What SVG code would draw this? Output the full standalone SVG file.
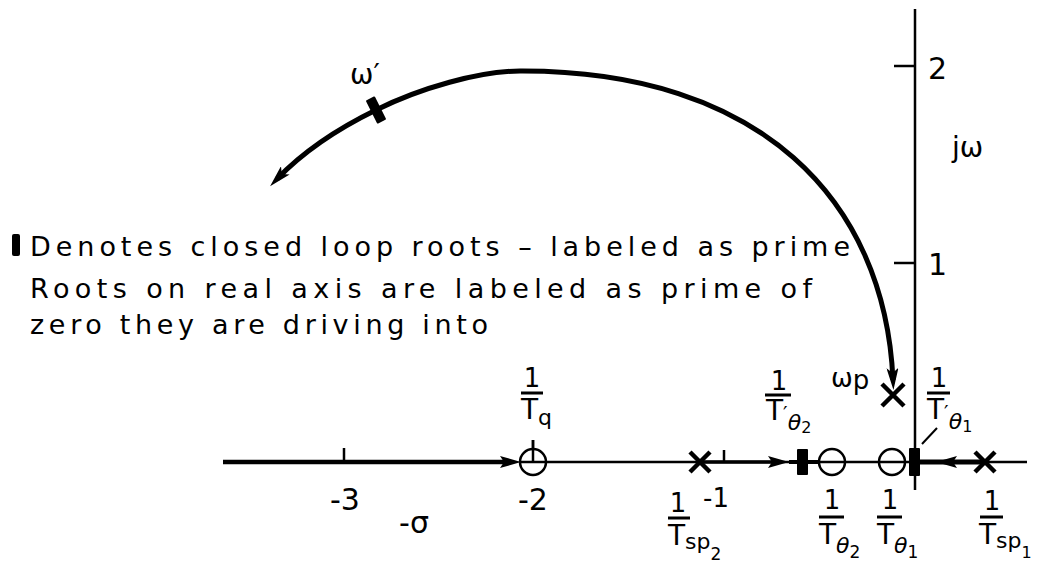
<svg xmlns="http://www.w3.org/2000/svg" width="1039" height="565" viewBox="0 0 1039 565">
<style>
.t{font-family:"DejaVu Sans","Liberation Sans",sans-serif;fill:#000}
.ax{stroke:#000;stroke-width:2.5;fill:none}
.x{stroke:#000;stroke-width:4.5;stroke-linecap:butt}
.z{stroke:#000;stroke-width:2.5;fill:#fff}
.bar{stroke:#000;stroke-width:3}
.loc{stroke:#000;fill:none}
.num{font-size:26px;text-anchor:middle}
.den{font-size:28px}
</style>
<defs>
<marker id="ah" viewBox="0 0 22 12" refX="12" refY="6" markerWidth="22" markerHeight="12" markerUnits="userSpaceOnUse" orient="auto-start-reverse">
<path d="M0,0 L22,6 L0,12 L5,6 z" fill="#000"/>
</marker>
</defs>
<rect width="1039" height="565" fill="#fff"/>

<g id="axes">
<line class="ax" x1="915" y1="9" x2="915" y2="490"/>
<line class="ax" x1="894" y1="66" x2="915" y2="66"/>
<line class="ax" x1="894" y1="263" x2="915" y2="263"/>
<line class="ax" x1="546" y1="462" x2="1027" y2="462"/>
<line class="ax" x1="344" y1="448" x2="344" y2="462"/>
<line class="ax" x1="724" y1="450" x2="724" y2="462"/>
<line class="ax" x1="533" y1="440" x2="533" y2="462"/>
<text class="t" x="928" y="79" font-size="30">2</text>
<text class="t" x="928" y="275" font-size="30">1</text>
<text class="t" x="952" y="157" font-size="28">jω</text>
<text class="t" x="345" y="510" font-size="30" text-anchor="middle">-3</text>
<text class="t" x="533" y="510" font-size="30" text-anchor="middle">-2</text>
<text class="t" x="716" y="507" font-size="26" text-anchor="middle">-1</text>
<text class="t" x="414" y="533" font-size="30" text-anchor="middle">-σ</text>
</g>

<g id="connectors">
<line class="loc" x1="223" y1="462" x2="505" y2="462" stroke-width="4.5"/>
<polygon points="500,456 521,462 500,468 504,462"/>
<line class="loc" x1="700" y1="462" x2="775" y2="462" stroke-width="3.5"/>
<polygon points="768,456 789,462 768,468 772,462"/>
<line class="loc" x1="789" y1="462" x2="819" y2="462" stroke-width="4"/>
<line class="loc" x1="918" y1="462" x2="985" y2="462" stroke-width="5"/>
<polygon points="957,456 936,462 957,468 953,462"/>
<path class="loc" stroke-width="5" marker-start="url(#ah)" marker-end="url(#ah)" d="M893,380 C885,200 760,70 520,71 C480,71 420,88 376,110 C335,130 300,155 277,179"/>
<line stroke="#000" stroke-width="2" x1="922" y1="444" x2="937" y2="428"/>
</g>

<g id="zero-Tq"><circle class="z" cx="533" cy="462" r="13"/><line class="ax" x1="533" y1="440" x2="533" y2="462"/><line class="ax" x1="520" y1="462" x2="546" y2="462" stroke-width="2"/></g>
<g id="zero-Ttheta2"><circle class="z" cx="832" cy="462" r="13"/><line class="ax" x1="819" y1="462" x2="845" y2="462" stroke-width="2"/></g>
<g id="zero-Ttheta1"><circle class="z" cx="892" cy="462" r="13"/><line class="ax" x1="879" y1="462" x2="905" y2="462" stroke-width="2"/></g>

<g id="pole-Tsp2"><path class="x" d="M690,452 L710,472 M710,452 L690,472"/></g>
<g id="pole-Tsp1"><path class="x" d="M975,452 L995,472 M995,452 L975,472"/></g>
<g id="pole-wp"><path class="x" d="M882,384 L904,406 M904,384 L882,406"/></g>

<g id="root-Ttheta2p"><rect x="797" y="449" width="11" height="26" rx="1"/></g>
<g id="root-Ttheta1p"><rect x="909" y="448" width="11" height="28" rx="1"/></g>
<g id="root-wprime"><rect x="371" y="97" width="10" height="26" rx="1" transform="rotate(-26.6 376 110)"/></g>

<g id="label-wprime"><text class="t" x="350" y="84" font-size="28">ω′</text></g>
<g id="label-wp"><text class="t" x="831" y="387" font-size="26">ω<tspan dy="2">p</tspan></text></g>

<g id="label-Tq">
<text class="t num" x="532" y="387">1</text>
<line class="bar" x1="521" y1="393" x2="543" y2="393"/>
<text class="t den" x="521" y="419">T<tspan font-size="22" dy="6">q</tspan></text>
</g>
<g id="label-Ttheta2p">
<text class="t num" x="779" y="390">1</text>
<line class="bar" x1="765" y1="395" x2="791" y2="395"/>
<text class="t den" x="766" y="420">T<tspan font-size="20">′</tspan><tspan font-size="22" dy="10" font-style="italic">θ</tspan><tspan font-size="16" dy="3">2</tspan></text>
</g>
<g id="label-Ttheta1p">
<text class="t num" x="939" y="387">1</text>
<line class="bar" x1="927" y1="393" x2="950" y2="393"/>
<text class="t den" x="927" y="419">T<tspan font-size="20">′</tspan><tspan font-size="22" dy="10" font-style="italic">θ</tspan><tspan font-size="16" dy="3">1</tspan></text>
</g>

<g id="label-Tsp2">
<text class="t num" x="678" y="512">1</text>
<line class="bar" x1="668" y1="518" x2="690" y2="518"/>
<text class="t den" x="668" y="545">T<tspan font-size="22" dy="4">sp</tspan><tspan font-size="17" dy="11">2</tspan></text>
</g>
<g id="label-Ttheta2">
<text class="t num" x="832" y="509">1</text>
<line class="bar" x1="819" y1="517" x2="844" y2="517"/>
<text class="t den" x="819" y="544">T<tspan font-size="22" dy="9" font-style="italic">θ</tspan><tspan font-size="17" dy="5">2</tspan></text>
</g>
<g id="label-Ttheta1">
<text class="t num" x="890" y="509">1</text>
<line class="bar" x1="877" y1="517" x2="902" y2="517"/>
<text class="t den" x="877" y="544">T<tspan font-size="22" dy="9" font-style="italic">θ</tspan><tspan font-size="17" dy="5">1</tspan></text>
</g>
<g id="label-Tsp1">
<text class="t num" x="992" y="510">1</text>
<line class="bar" x1="980" y1="517" x2="1003" y2="517"/>
<text class="t den" x="979" y="544">T<tspan font-size="22" dy="4">sp</tspan><tspan font-size="16" dy="10">1</tspan></text>
</g>

<g id="legend">
<rect x="12" y="234" width="8" height="22" rx="2"/>
<text class="t" x="30" y="256" font-size="27" textLength="820" lengthAdjust="spacing">Denotes closed loop roots – labeled as prime</text>
<text class="t" x="30" y="298" font-size="27" textLength="782" lengthAdjust="spacing">Roots on real axis are labeled as prime of</text>
<text class="t" x="30" y="334" font-size="27" textLength="458" lengthAdjust="spacing">zero they are driving into</text>
</g>
</svg>
